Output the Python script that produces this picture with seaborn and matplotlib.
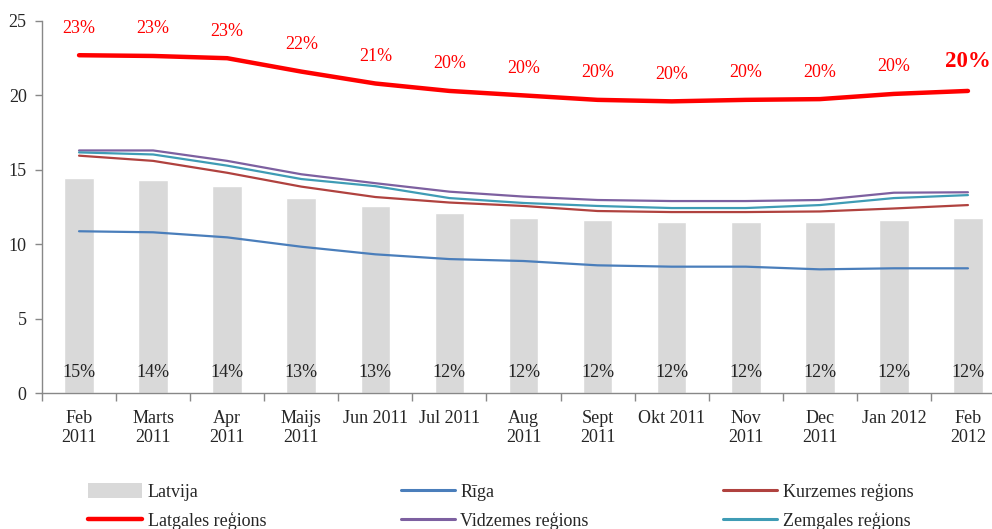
import numpy as np
import pandas as pd
import matplotlib
matplotlib.use("Agg")
import matplotlib.pyplot as plt
import seaborn as sns
from matplotlib.lines import Line2D
from matplotlib.patches import Patch

months = ["Feb\n2011", "Marts\n2011", "Apr\n2011", "Maijs\n2011", "Jun 2011", "Jul 2011",
          "Aug\n2011", "Sept\n2011", "Okt 2011", "Nov\n2011", "Dec\n2011", "Jan 2012", "Feb\n2012"]

latvija = [14.45, 14.3, 13.9, 13.1, 12.6, 12.1, 11.75, 11.6, 11.5, 11.5, 11.5, 11.65, 11.75]
latvija_labels = ["15%", "14%", "14%", "13%", "13%", "12%", "12%", "12%", "12%", "12%", "12%", "12%", "12%"]

riga = [10.87, 10.8, 10.46, 9.83, 9.32, 9.0, 8.87, 8.58, 8.49, 8.49, 8.31, 8.38, 8.38]
kurzeme = [15.95, 15.6, 14.8, 13.87, 13.17, 12.8, 12.57, 12.23, 12.16, 12.16, 12.2, 12.4, 12.63]
latgale = [22.7, 22.65, 22.5, 21.6, 20.8, 20.3, 20.0, 19.7, 19.6, 19.7, 19.75, 20.1, 20.3]
latgale_labels = ["23%", "23%", "23%", "22%", "21%", "20%", "20%", "20%", "20%", "20%", "20%", "20%", "20%"]
vidzeme = [16.3, 16.3, 15.6, 14.7, 14.1, 13.53, 13.2, 12.97, 12.9, 12.9, 12.97, 13.46, 13.49]
zemgale = [16.17, 16.03, 15.28, 14.38, 13.9, 13.1, 12.77, 12.57, 12.43, 12.43, 12.63, 13.1, 13.3]

series_names = ["Rīga", "Kurzemes reģions", "Latgales reģions", "Vidzemes reģions", "Zemgales reģions"]
series_values = [riga, kurzeme, latgale, vidzeme, zemgale]
series_colors = ["#4A7EBB", "#B0423F", "#FF0000", "#7D60A0", "#3F9CB5"]
series_widths = [1.6, 1.6, 3.2, 1.6, 1.6]

sns.set_theme(style="white")
plt.rcParams["font.family"] = ["Liberation Serif", "DejaVu Serif"]

fig = plt.figure(figsize=(9.92, 5.29), dpi=100)
ax = fig.add_axes([42 / 992, (529 - 393) / 529, (1005 - 42) / 992, (393 - 21) / 529])

pos = np.arange(len(months))
df_bar = pd.DataFrame({"month": months, "value": latvija})
sns.barplot(data=df_bar, x="month", y="value", color="#D9D9D9", width=0.4,
            saturation=1, ax=ax, zorder=1)

for name, vals, col, lw in zip(series_names, series_values, series_colors, series_widths):
    d = pd.DataFrame({"x": pos, "y": vals})
    sns.lineplot(data=d, x="x", y="y", color=col, linewidth=lw, ax=ax, zorder=3)

for i, lab in enumerate(latvija_labels):
    ax.annotate(lab, xy=(pos[i], 0), xytext=(0, 8.5), textcoords="offset points",
                ha="center", va="bottom", fontsize=13, color="#222222")

for i, lab in enumerate(latgale_labels):
    last = i == len(latgale_labels) - 1
    ax.annotate(lab, xy=(pos[i], latgale[i]), xytext=(0, 21.5 if last else 19.5),
                textcoords="offset points", ha="center", va="center",
                fontsize=16.5 if last else 13, fontweight="bold" if last else "normal",
                color="#FF0000")

ax.set_xlim(-0.5, len(months) - 0.5)
ax.set_ylim(0, 25)
ax.set_yticks([0, 5, 10, 15, 20, 25])
ax.set_xticks(pos)
ax.set_xticklabels(months, fontsize=13, linespacing=1.2)
ax.set_xticks(np.arange(len(months) + 1) - 0.5, minor=True)
ax.tick_params(axis="x", which="major", length=0, pad=12)
ax.tick_params(axis="x", which="minor", length=6, width=1, color="#888888", direction="out", bottom=True)
ax.tick_params(axis="y", which="major", length=5, width=1, color="#888888", direction="out",
               left=True, labelsize=13, pad=6)
ax.set_xlabel("")
ax.set_ylabel("")
for s in ["top", "right"]:
    ax.spines[s].set_visible(False)
for s in ["left", "bottom"]:
    ax.spines[s].set_color("#888888")
    ax.spines[s].set_linewidth(1)

handles = [Patch(facecolor="#D9D9D9", edgecolor="none"),
           Line2D([], [], color=series_colors[2], lw=3.2),
           Line2D([], [], color=series_colors[0], lw=2.2),
           Line2D([], [], color=series_colors[3], lw=2.2),
           Line2D([], [], color=series_colors[1], lw=2.2),
           Line2D([], [], color=series_colors[4], lw=2.2)]
labels = ["Latvija", "Latgales reģions", "Rīga", "Vidzemes reģions", "Kurzemes reģions", "Zemgales reģions"]
fig.legend(handles, labels, ncol=3, loc="upper left", bbox_to_anchor=(81 / 992, 1 - 476 / 529),
           frameon=False, fontsize=13, handlelength=3.0, handleheight=0.9, handletextpad=0.3,
           columnspacing=7.45, labelspacing=0.62, borderaxespad=0)

fig.savefig("out.png", dpi=100)
